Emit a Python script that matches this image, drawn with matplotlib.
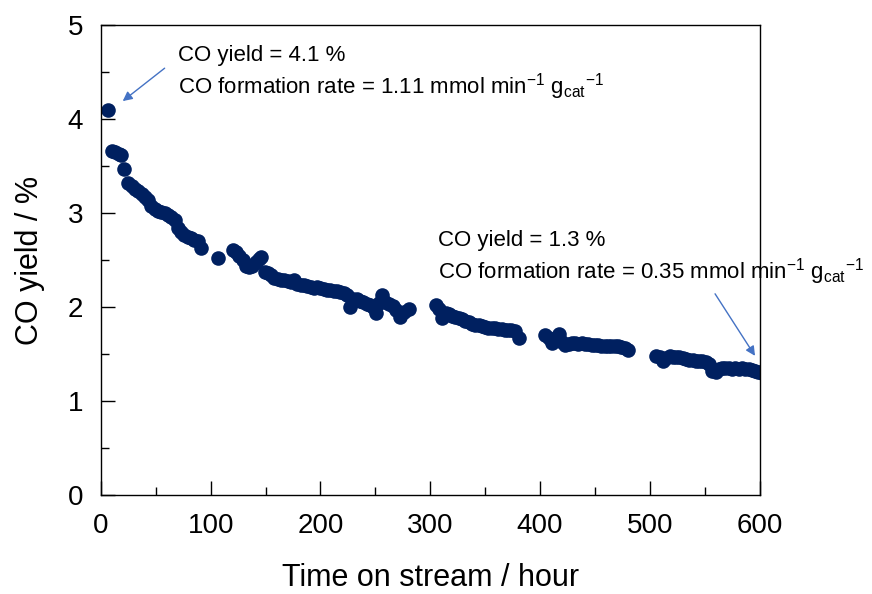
import matplotlib
matplotlib.use('Agg')
import matplotlib.pyplot as plt
from matplotlib.ticker import MultipleLocator

plt.rcParams['font.family'] = ['Liberation Sans', 'DejaVu Sans']
plt.rcParams['mathtext.fontset'] = 'custom'
plt.rcParams['mathtext.rm'] = 'Liberation Sans'
plt.rcParams['mathtext.it'] = 'Liberation Sans:italic'

# time on stream (h) and CO yield (%)
time_h = [6, 10, 13, 16, 18, 21, 25, 28, 31, 34, 37, 40, 43, 46, 49, 52, 55, 58, 61, 64,
          67, 70, 73, 76, 79, 82, 85, 88, 91,
          107,
          120, 123, 126, 129, 132, 135, 138, 141, 144, 146, 149, 152, 155, 158, 161, 164,
          167, 170, 173, 176, 179, 182, 185, 188, 191, 194, 197, 200, 203, 206, 209, 212,
          215, 218, 221, 224, 227, 230, 233, 236, 239, 242, 245, 248, 251, 253, 256, 259,
          262, 266, 269, 272, 276, 281,
          305, 308, 311, 314, 317, 320, 323, 326, 329, 332, 335, 338, 341, 344, 347, 350,
          353, 356, 359, 362, 365, 368, 371, 374, 377, 381,
          405, 408, 411, 414, 417, 420, 423, 426, 429, 432, 435, 438, 441, 444, 447, 450,
          453, 456, 459, 462, 465, 468, 471, 474, 477, 480,
          506, 509, 512, 515, 518, 521, 524, 527, 530, 533, 536, 539, 542, 545, 548, 551,
          554, 557, 560, 563, 566, 569, 572, 575, 578, 581, 584, 587, 590, 593, 596, 599, 602]
co_yield = [4.10, 3.66, 3.65, 3.63, 3.62, 3.47, 3.32, 3.29, 3.26, 3.23, 3.20, 3.17, 3.14, 3.07,
            3.04, 3.02, 3.01, 3.00, 2.98, 2.96, 2.92, 2.84, 2.80, 2.77, 2.74, 2.73, 2.71, 2.70,
            2.63,
            2.52,
            2.61, 2.59, 2.54, 2.50, 2.44, 2.42, 2.44, 2.48, 2.51, 2.53, 2.37, 2.36, 2.34, 2.31,
            2.30, 2.29, 2.29, 2.28, 2.27, 2.29, 2.24, 2.23, 2.23, 2.22, 2.21, 2.20, 2.21, 2.20,
            2.19, 2.18, 2.18, 2.17, 2.17, 2.16, 2.15, 2.13, 2.00, 2.09, 2.08, 2.06, 2.05, 2.03,
            2.02, 2.00, 1.94, 2.04, 2.13, 2.05, 2.03, 2.01, 1.97, 1.89, 1.95, 1.98,
            2.02, 1.98, 1.88, 1.94, 1.92, 1.90, 1.89, 1.88, 1.87, 1.85, 1.84, 1.82, 1.81, 1.81,
            1.80, 1.79, 1.78, 1.78, 1.78, 1.77, 1.77, 1.76, 1.75, 1.75, 1.74, 1.67,
            1.70, 1.67, 1.62, 1.66, 1.71, 1.63, 1.60, 1.61, 1.62, 1.62, 1.61, 1.62, 1.61, 1.61,
            1.60, 1.60, 1.60, 1.59, 1.59, 1.59, 1.59, 1.58, 1.58, 1.57, 1.56, 1.54,
            1.48, 1.47, 1.43, 1.46, 1.48, 1.47, 1.47, 1.47, 1.46, 1.45, 1.44, 1.44, 1.43, 1.43,
            1.42, 1.41, 1.39, 1.32, 1.31, 1.34, 1.35, 1.35, 1.35, 1.34, 1.35, 1.34, 1.35, 1.34,
            1.34, 1.33, 1.32, 1.31, 1.30]

navy = '#002060'
arrow_blue = '#4472C4'

fig = plt.figure(figsize=(8.72, 5.94), dpi=100)
ax = fig.add_axes([0.1158, 0.1667, 0.7552, 0.7913])

ax.plot(time_h, co_yield, 'o', color=navy, markersize=10.5, markeredgewidth=0)

ax.set_xlim(0, 600)
ax.set_ylim(0, 5)
ax.xaxis.set_major_locator(MultipleLocator(100))
ax.xaxis.set_minor_locator(MultipleLocator(50))
ax.yaxis.set_major_locator(MultipleLocator(1))
ax.yaxis.set_minor_locator(MultipleLocator(0.5))
ax.tick_params(which='both', direction='in', top=False, right=False, width=1, labelsize=20)
ax.tick_params(which='major', length=10, pad=13)
ax.tick_params(which='minor', length=5.5)
for sp in ax.spines.values():
    sp.set_linewidth(1)

ax.set_xlabel('Time on stream / hour', fontsize=22, labelpad=17)
ax.set_ylabel('CO yield / %', fontsize=22, labelpad=16)

# start / end annotations
ax.text(70, 4.68, 'CO yield = 4.1 %', fontsize=16, va='center')
ax.text(70, 4.34, r'CO formation rate = 1.11 mmol min$^{-1}$ g$_{\mathrm{cat}}$$^{-1}$',
        fontsize=16, va='center')
ax.text(307, 2.71, 'CO yield = 1.3 %', fontsize=16, va='center')
ax.text(307, 2.38, r'CO formation rate = 0.35 mmol min$^{-1}$ g$_{\mathrm{cat}}$$^{-1}$',
        fontsize=16, va='center')

arrow = dict(arrowstyle='-|>', color=arrow_blue, lw=1, mutation_scale=14, shrinkA=0, shrinkB=0)
ax.annotate('', xy=(19.8, 4.19), xytext=(58, 4.54), arrowprops=arrow)
ax.annotate('', xy=(595.9, 1.48), xytext=(559.5, 2.14), arrowprops=arrow)

fig.savefig('out.png', dpi=100)
